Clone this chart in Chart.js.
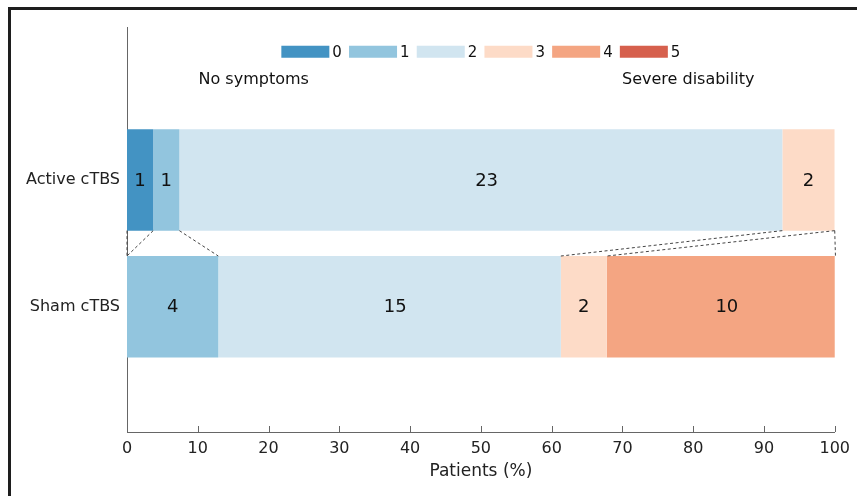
<!DOCTYPE html>
<html>
<head>
<meta charset="utf-8">
<script src="https://cdn.jsdelivr.net/npm/chart.js@4.4.1/dist/chart.umd.min.js"></script>
<style>
  body { margin: 0; background: #fff; }
  #frame { position: absolute; left: 8px; top: 7px; width: 870px; height: 486px; border: 3px solid #1e1e1e; }
  #wrap { position: absolute; left: 0; top: 0; width: 857px; height: 496px; }
</style>
</head>
<body>
<div id="frame"></div>
<div id="wrap"><canvas id="mrsChart" width="857" height="496"></canvas></div>
<script>
const groups = ['Active cTBS', 'Sham cTBS'];
const groupPos = [1, 0];
const scores = ['0', '1', '2', '3', '4', '5'];
const colors = ['#4393c3', '#92c5de', '#d1e5f0', '#fddbc7', '#f4a582', '#d6604d'];
// patient counts per score (labels in bars)
const activeCounts = [1, 1, 23, 2, 0, 0];
const shamCounts = [0, 4, 15, 2, 10, 0];
// percent of patients per score
const activePct = [3.7, 3.7, 85.2, 7.4, 0, 0];
const shamPct = [0, 12.9, 48.4, 6.5, 32.3, 0];
const xTicks = [0, 10, 20, 30, 40, 50, 60, 70, 80, 90, 100];

const FONT = 'DejaVu Sans';
const axisColor = '#666';

const datasets = scores.map((s, i) => ({
    label: s,
    data: [{ x: activePct[i], y: groupPos[0] }, { x: shamPct[i], y: groupPos[1] }],
    counts: [activeCounts[i], shamCounts[i]],
    backgroundColor: colors[i],
    borderWidth: 0,
    barPercentage: 0.8,
    categoryPercentage: 1
}));

const overlay = {
    id: 'overlay',
    afterDatasetsDraw(chart) {
        const ctx = chart.ctx;
        const xs = chart.scales.x, ys = chart.scales.y;
        const area = chart.chartArea;
        ctx.save();
        // connector lines between the two bars
        ctx.strokeStyle = '#444';
        ctx.lineWidth = 1;
        ctx.setLineDash([3, 2.5]);
        chart.data.datasets.forEach((ds, i) => {
            const m = chart.getDatasetMeta(i);
            const a = m.data[0].getProps(['base', 'y', 'height'], true);
            const b = m.data[1].getProps(['base', 'y', 'height'], true);
            ctx.beginPath();
            ctx.moveTo(a.base, a.y + a.height / 2);
            ctx.lineTo(b.base, b.y - b.height / 2);
            ctx.stroke();
        });
        ctx.setLineDash([]);
        // counts inside bars (first digit centred, like the original)
        ctx.fillStyle = '#111';
        ctx.font = '18px ' + FONT;
        ctx.textAlign = 'left';
        ctx.textBaseline = 'middle';
        const digitW = ctx.measureText('0').width;
        chart.data.datasets.forEach((ds, i) => {
            const m = chart.getDatasetMeta(i);
            m.data.forEach((el, j) => {
                const n = ds.counts[j];
                if (!n) return;
                const p = el.getProps(['x', 'base', 'y'], true);
                ctx.fillText(String(n), (p.x + p.base) / 2 - digitW / 2, p.y + 1);
            });
        });
        // inward x ticks
        ctx.strokeStyle = axisColor;
        xTicks.forEach(v => {
            const px = Math.round(xs.getPixelForValue(v)) + 0.5;
            ctx.beginPath();
            ctx.moveTo(px, area.bottom);
            ctx.lineTo(px, area.bottom - 6);
            ctx.stroke();
        });
        // annotations
        ctx.textAlign = 'center';
        ctx.fillStyle = '#111';
        ctx.font = '16px ' + FONT;
        const ty = ys.getPixelForValue(1.79);
        ctx.fillText('No symptoms', xs.getPixelForValue(17.9), ty);
        ctx.fillText('Severe disability', xs.getPixelForValue(79.3), ty);
        // legend
        ctx.font = '15px ' + FONT;
        ctx.textAlign = 'left';
        const boxW = 48, boxH = 12, gap = 3, pitch = 67.7;
        const total = pitch * (scores.length - 1) + boxW + gap + ctx.measureText('5').width;
        let lx = (area.left + area.right) / 2 - total / 2;
        const ly = ys.getPixelForValue(2.01);
        scores.forEach((s, i) => {
            ctx.fillStyle = colors[i];
            ctx.fillRect(lx, ly - boxH / 2, boxW, boxH);
            ctx.fillStyle = '#111';
            ctx.fillText(s, lx + boxW + gap, ly + 1);
            lx += pitch;
        });
        ctx.restore();
    }
};

new Chart(document.getElementById('mrsChart'), {
    type: 'bar',
    data: { datasets: datasets },
    options: {
        indexAxis: 'y',
        responsive: false,
        animation: false,
        layout: { padding: { top: 27, right: 22, left: 0, bottom: 0 } },
        plugins: { legend: { display: false }, tooltip: { enabled: false } },
        scales: {
            x: {
                type: 'linear',
                stacked: true,
                min: 0, max: 100,
                grid: { display: false, drawTicks: false },
                border: { display: true, color: axisColor, width: 1 },
                afterBuildTicks: s => { s.ticks = xTicks.map(v => ({ value: v })); },
                afterFit: s => { s.height = 64; },
                ticks: { color: '#222', padding: 7, font: { family: FONT, size: 16 } },
                title: { display: true, text: 'Patients (%)', color: '#222', font: { family: FONT, size: 17 }, padding: { top: 0, bottom: 14 } }
            },
            y: {
                type: 'linear',
                stacked: true,
                offset: false,
                min: -0.987, max: 2.205,
                grid: { display: false, drawTicks: false },
                border: { display: true, color: axisColor, width: 1 },
                afterBuildTicks: s => { s.ticks = groupPos.map(v => ({ value: v })); },
                afterFit: s => { s.width = 127; },
                ticks: {
                    color: '#222', padding: 7, font: { family: FONT, size: 16 },
                    callback: v => groups[groupPos.indexOf(v)]
                }
            }
        }
    },
    plugins: [overlay]
});
</script>
</body>
</html>
